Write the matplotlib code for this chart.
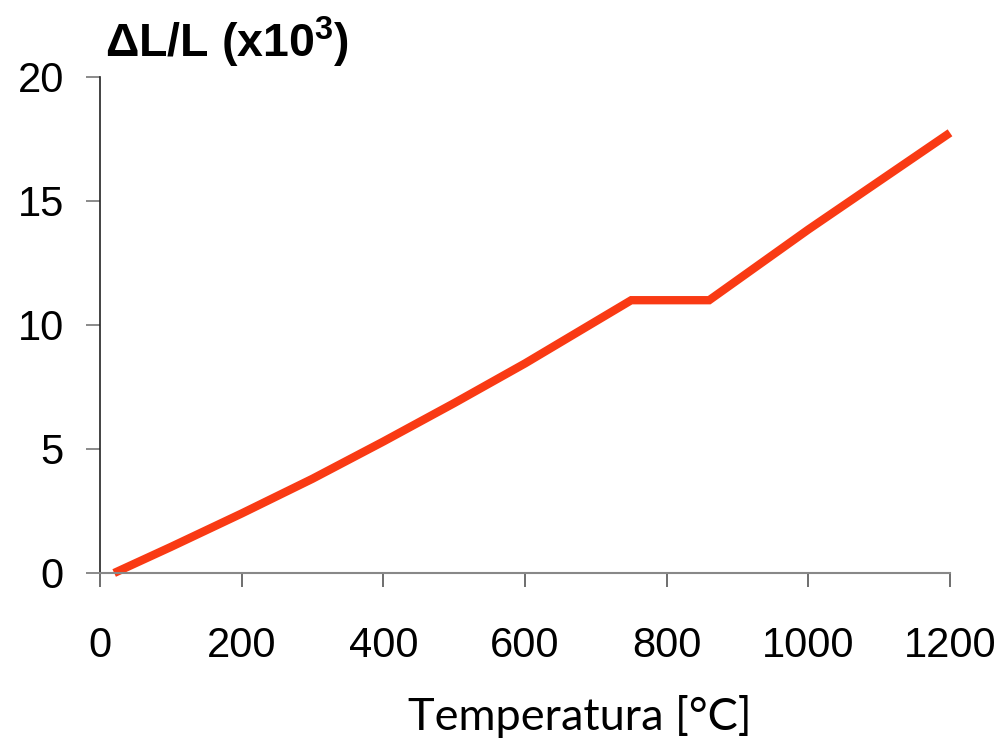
import numpy as np
import matplotlib.pyplot as plt

plt.rcParams['mathtext.fontset'] = 'custom'
plt.rcParams['mathtext.bf'] = 'Liberation Sans:bold'
plt.rcParams['mathtext.rm'] = 'Liberation Sans'

# Dilatação térmica (ΔL/L x10^3) vs temperatura
temperatura = [20, 100, 200, 300, 400, 500, 600, 700, 750, 860, 1000, 1100, 1200]
dilatacao = [0.0, 1.05, 2.4, 3.8, 5.3, 6.85, 8.45, 10.15, 11.0, 11.0, 13.85, 15.8, 17.75]

xticks = [0, 200, 400, 600, 800, 1000, 1200]
yticks = [0, 5, 10, 15, 20]

fig = plt.figure(figsize=(10.04, 7.52), dpi=100)
ax = fig.add_axes([100/1004, (752-573)/752, (950-100)/1004, (573-77)/752])

ax.plot(temperatura, dilatacao, color='#F93A14', lw=6, solid_joinstyle='miter',
        solid_capstyle='butt', clip_on=False)

ax.set_xlim(0, 1200)
ax.set_ylim(0, 20)
ax.set_xticks(xticks)
ax.set_yticks(yticks)

for s in ['top', 'right']:
    ax.spines[s].set_visible(False)
ax.spines['left'].set_color('#222222')
ax.spines['bottom'].set_color('#888888')
ax.spines['left'].set_linewidth(1.2)
ax.spines['bottom'].set_linewidth(1.5)

ax.tick_params(axis='y', direction='out', length=10, width=1.2, color='#777777',
               pad=16, labelsize=30)
ax.tick_params(axis='x', direction='out', length=10, width=1.2, color='#555555',
               pad=28, labelsize=30)
for lab in ax.get_xticklabels() + ax.get_yticklabels():
    lab.set_fontfamily('Liberation Sans')

fig.text(105/1004, 1 - 42/752, 'ΔL/L (x10$^{\\mathbf{3}}$)', fontsize=33.5, fontweight='bold',
         family='Liberation Sans', va='center', ha='left')
fig.text(580/1004, 1 - 716/752, 'Temperatura [°C]', fontsize=32.5, family='Lato',
         va='center', ha='center')

fig.savefig('out.png', dpi=100)
